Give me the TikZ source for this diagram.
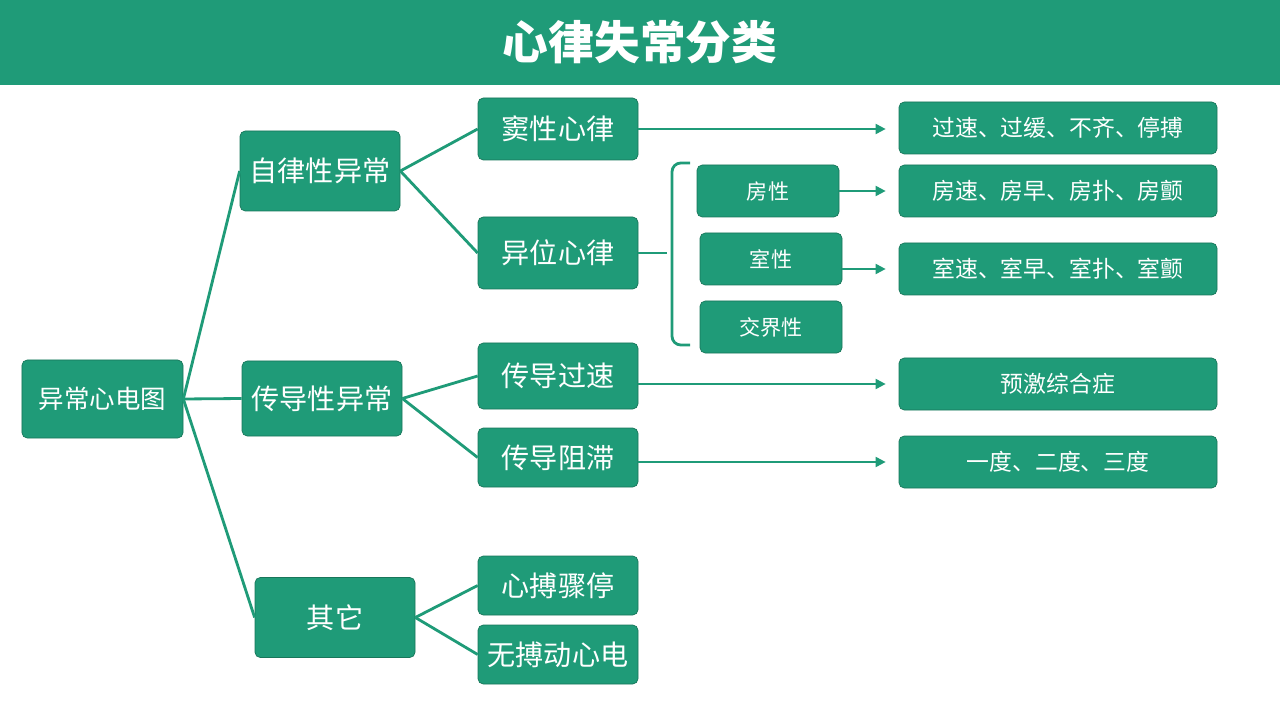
\documentclass[tikz,border=0pt]{standalone}
\usepackage{fontspec}
\setmainfont{Noto Sans CJK SC}
\usepackage{tikz}
\usetikzlibrary{positioning}
\usetikzlibrary{arrows.meta}
\definecolor{ecggreen}{RGB}{31,155,120}
\definecolor{ecgdark}{RGB}{24,118,90}
\tikzset{
   box/.style = {%
    shape=rectangle,
    rounded corners=3pt,
    draw=ecgdark,
    fill=ecggreen,
    text=white,
    align=center,
    inner sep=0pt,
    minimum width=3.2cm,
    minimum height=1.6cm,
    font=\fontsize{16}{16}\selectfont},
   smallbox/.style = {%
    box,
    minimum width=2.84cm,
    minimum height=1.04cm,
    font=\fontsize{12}{12}\selectfont},
   listbox/.style = {%
    box,
    minimum width=6.36cm,
    minimum height=1.04cm,
    font=\fontsize{13}{13}\selectfont},
   link/.style = {%
    draw=ecggreen,
    line width=1.6pt},
   arrow/.style = {%
    draw=ecggreen,
    line width=1.1pt,% <-- thinner than the links
    -{Triangle[length=2mm,width=2mm]},
    shorten >=0.26cm},
    }

\begin{document}
\begin{tikzpicture}[x=0.2mm, y=-0.2mm]
    \useasboundingbox (0,0) rectangle (1280,720);
    % header
    \fill[ecggreen] (0,0) rectangle (1280,85);
    \node[text=white, font=\fontsize{26}{26}\selectfont\bfseries] (title) at (640,42) {心律失常分类};

    \node[box, minimum width=3.22cm, minimum height=1.56cm, font=\fontsize{14.5}{14.5}\selectfont] (ecg) at (102.5,399) {异常心电图};

    \node[box] (auto) at (320,171) {自律性异常};
    \node[box, minimum height=1.5cm] (cond) at (322,398.5) {传导性异常};
    \node[box] (other) at (335,617.5) {其它};

    \node[box, minimum height=1.24cm] (sinus) at (558,129) {窦性心律};
    \node[box, minimum height=1.44cm] (ectopic) at (558,253) {异位心律};
    \node[box, minimum height=1.32cm] (fast) at (558,376) {传导过速};
    \node[box, minimum height=1.18cm] (block) at (558,457.5) {传导阻滞};
    \node[box, minimum height=1.18cm] (arrest) at (558,585.5) {心搏骤停};
    \node[box, minimum height=1.18cm] (pea) at (558,654.5) {无搏动心电};

    \node[smallbox] (atrial) at (768,191) {房性};
    \node[smallbox] (vent) at (771,259) {室性};
    \node[smallbox] (junct) at (771,327) {交界性};

    \node[listbox] (sinuslist) at (1058,128) {过速、过缓、不齐、停搏};
    \node[listbox] (atriallist) at (1058,191) {房速、房早、房扑、房颤};
    \node[listbox] (ventlist) at (1058,269) {室速、室早、室扑、室颤};
    \node[listbox] (preex) at (1058,384) {预激综合症};
    \node[listbox] (degree) at (1058,462) {一度、二度、三度};

    % tree links
    \foreach \child in {auto, cond, other}
        \draw[link] (ecg.east) -- (\child.west);
    \draw[link] (auto.east) -- (sinus.west);
    \draw[link] (auto.east) -- (ectopic.west);
    \draw[link] (cond.east) -- (fast.west);
    \draw[link] (cond.east) -- (block.west);
    \draw[link] (other.east) -- (arrest.west);
    \draw[link] (other.east) -- (pea.west);

    % brace
    \coordinate (bracetop) at (690,163);
    \coordinate (bracebot) at (690,345);
    \coordinate (bracetip) at (667,253);
    \draw[link, rounded corners=5pt] (bracetop) -| (672,253) -| (bracebot -| 672,0) -- (bracebot);
    \draw[link] (ectopic.east) -- (bracetip);

    % arrows
    \draw[arrow] (sinus.east) -- (sinus.east -| sinuslist.west);
    \draw[arrow] (atrial.east) -- (atriallist.west);
    \draw[arrow] (vent.east |- ventlist.west) -- (ventlist.west);
    \draw[arrow] (fast.east |- preex.west) -- (preex.west);
    \draw[arrow] (block.east |- degree.west) -- (degree.west);
\end{tikzpicture}
\end{document}
